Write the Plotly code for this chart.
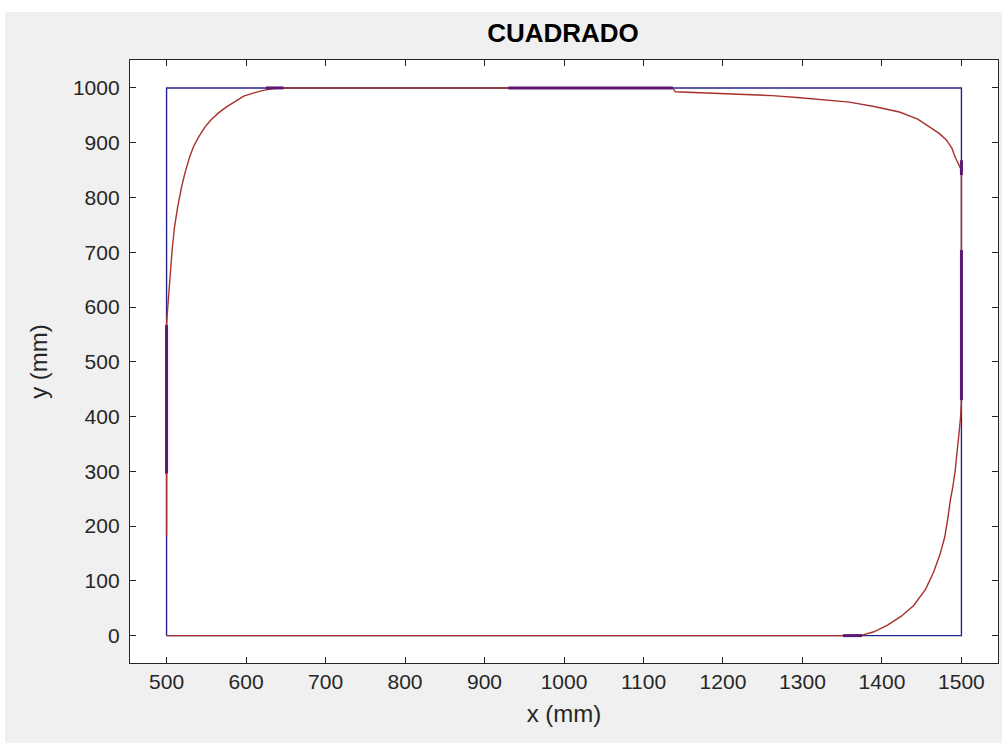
import plotly.graph_objects as go

# Reference square (blue)
square_x = [500, 1500, 1500, 500, 500]
square_y = [0, 0, 1000, 1000, 0]

# Followed trajectory (red)
path_x = [500, 500, 501, 502, 504, 507, 510, 514, 519, 523, 529, 534, 541, 548, 556, 565, 575,
          585, 597, 610, 623, 635, 647, 930, 1137, 1140, 1215, 1262, 1297, 1324, 1359, 1390,
          1422, 1445, 1460, 1472, 1481, 1488, 1492, 1495, 1498, 1500, 1500, 1499, 1497, 1495,
          1492, 1489, 1486, 1483, 1479, 1473, 1465, 1455, 1440, 1424, 1407, 1390, 1375, 1351, 500]
path_y = [183, 567, 590, 612, 649, 704, 746, 783, 820, 844, 874, 893, 912, 928, 942, 954, 965,
          974, 985, 991, 996, 999, 1000, 1000, 1000, 993, 989, 986, 982, 978, 974, 966,
          956, 943, 929, 917, 905, 890, 874, 865, 855, 850, 430, 400, 370, 340,
          300, 270, 247, 215, 180, 148, 116, 85, 55, 35, 19, 7, 1, 0, 0]

# Overlapping segments (purple)
seg_x = [500, 500, None, 625, 647, None, 930, 1137, None, 1500, 1500, None, 1500, 1500, None, 1351, 1375]
seg_y = [296, 567, None, 1000, 1000, None, 1000, 1000, None, 868, 841, None, 704, 430, None, 0, 0]

x_ticks = [500, 600, 700, 800, 900, 1000, 1100, 1200, 1300, 1400, 1500]
y_ticks = [0, 100, 200, 300, 400, 500, 600, 700, 800, 900, 1000]

FONT = "Liberation Sans, Arial"

fig = go.Figure()
fig.add_trace(go.Scatter(x=square_x, y=square_y, mode="lines",
                         line=dict(color="#26268a", width=1.4), showlegend=False))
fig.add_trace(go.Scatter(x=path_x, y=path_y, mode="lines",
                         line=dict(color="#a8302e", width=1.4), showlegend=False))
fig.add_trace(go.Scatter(x=seg_x, y=seg_y, mode="lines",
                         line=dict(color="#5a1a72", width=3), showlegend=False,
                         connectgaps=False))

axis_common = dict(showgrid=False, zeroline=False, showline=True, linecolor="#262626",
                   linewidth=1.3, mirror="ticks", ticks="inside", ticklen=6,
                   tickcolor="#262626", tickwidth=1.2,
                   tickfont=dict(family=FONT, size=21, color="#262626"))

fig.update_layout(
    width=1002, height=743,
    margin=dict(l=130, r=4, t=60, b=80),
    paper_bgcolor="#f0f0f0", plot_bgcolor="#ffffff",
    title=dict(text="<b>CUADRADO</b>", x=563 / 1002, xanchor="center",
               y=1 - 33 / 743, yanchor="middle",
               font=dict(family=FONT, size=26, color="#000000")),
    xaxis=dict(range=[454, 1546], tickvals=x_ticks, ticktext=[str(v) for v in x_ticks],
               title=dict(text="x (mm)", font=dict(family=FONT, size=24, color="#262626"),
                          standoff=12),
               **axis_common),
    yaxis=dict(range=[-50, 1051], tickvals=y_ticks, ticktext=[str(v) for v in y_ticks],
               ticklabelstandoff=5,
               title=dict(text="y (mm)", font=dict(family=FONT, size=24, color="#262626"),
                          standoff=18),
               **axis_common),
    shapes=[
        dict(type="rect", xref="paper", yref="paper", x0=-0.3, x1=1.1,
             y0=1 + 48 / 603, y1=1.3, fillcolor="#ffffff", line=dict(width=0), layer="above"),
        dict(type="rect", xref="paper", yref="paper", x0=-0.3, x1=-125 / 868,
             y0=-0.3, y1=1.3, fillcolor="#ffffff", line=dict(width=0), layer="above"),
    ],
)

fig.write_html("out.html")
